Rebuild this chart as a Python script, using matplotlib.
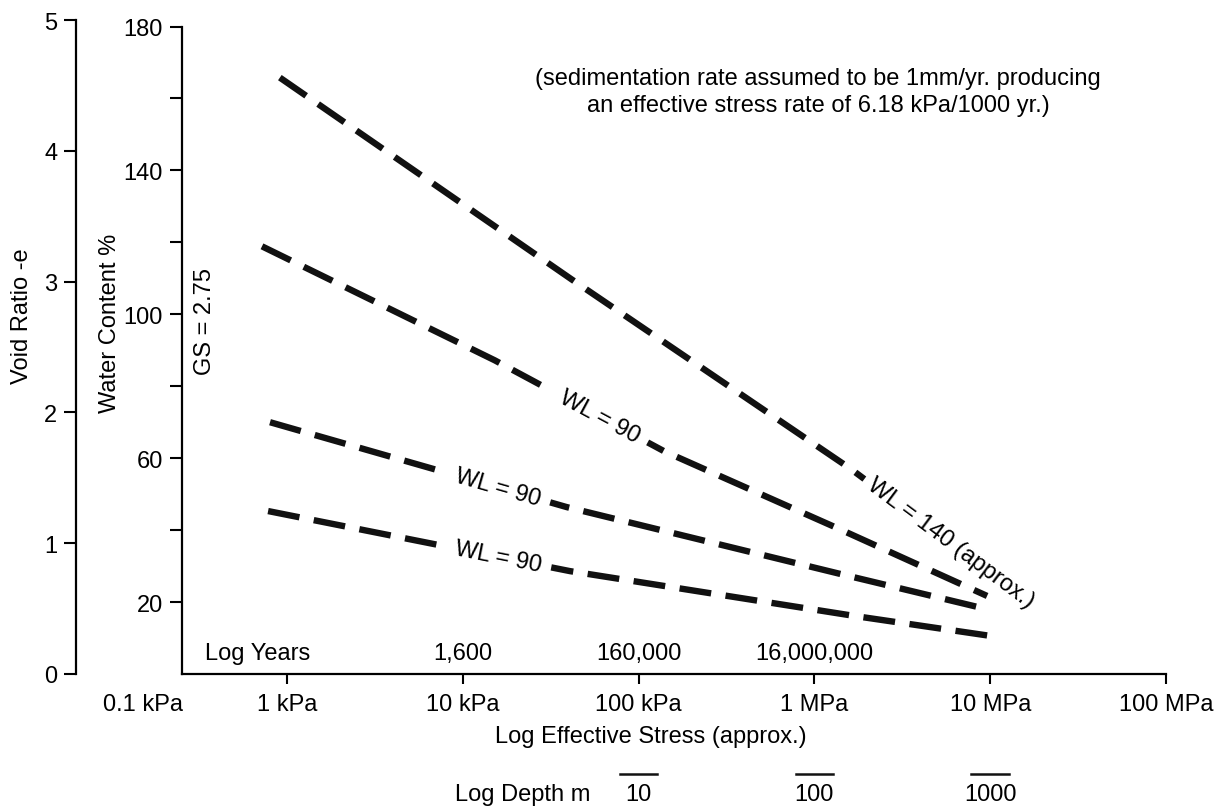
import numpy as np
import matplotlib.pyplot as plt
from matplotlib.transforms import blended_transform_factory, offset_copy

plt.rcParams['font.family'] = ['Liberation Sans', 'DejaVu Sans']
plt.rcParams['font.size'] = 17
plt.rcParams['lines.scale_dashes'] = False

GS = 2.75

# effective stress (kPa) against water content (%) for each curve
stress_140 = [0.91, 41.6, 1622, 1923]
water_140 = [165.8, 109.7, 56.9, 54.2]
stress_90a = [0.72, 15.2, 140, 1387, 9600]
water_90a = [118.9, 87.2, 61.9, 40.3, 21.7]
stress_90b = [0.80, 39, 1581, 10000]
water_90b = [70.0, 46.4, 27.2, 17.8]
stress_90c = [0.78, 40.7, 1710, 10000]
water_90c = [45.3, 28.6, 16.1, 10.6]

stress_ticks = [1, 10, 100, 1e3, 1e4, 1e5]
stress_labels = ['1 kPa', '10 kPa', '100 kPa', '1 MPa', '10 MPa', '100 MPa']
water_ticks = [20, 40, 60, 80, 100, 120, 140, 160, 180]
water_labels = ['20', '', '60', '', '100', '', '140', '', '180']
void_ticks = [0, 1, 2, 3, 4, 5]

year_stress = [10, 100, 1000]
year_labels = ['1,600', '160,000', '16,000,000']
depth_stress = [100, 1000, 10000]
depth_labels = ['10', '100', '1000']

XLIM = (0.063, 1e5)
WC_POS = 0.097  # water content spine, in axes fraction

fig = plt.figure(figsize=(12.23, 8.12), dpi=100)
ax = fig.add_axes([76 / 1223, 137 / 812, 1090 / 1223, 654 / 812])
ax.set_xscale('log')
ax.set_xlim(*XLIM)
ax.set_ylim(0, 5 * 100 / GS)

ax.spines['top'].set_visible(False)
ax.spines['right'].set_visible(False)
for side in ('left', 'bottom'):
    ax.spines[side].set_linewidth(1.6)
ax.spines['left'].set_position(('axes', WC_POS))
ax.spines['left'].set_bounds(0, 180)
lo, hi = np.log10(XLIM)
ax.spines['bottom'].set_bounds(10 ** (lo + WC_POS * (hi - lo)), XLIM[1])

ax.set_yticks(water_ticks)
ax.set_yticklabels(water_labels)
ax.tick_params(axis='y', direction='out', length=8.5, width=1.5, pad=5)
ax.set_xticks(stress_ticks)
ax.set_xticklabels(stress_labels)
ax.xaxis.set_minor_locator(plt.NullLocator())
ax.tick_params(axis='x', direction='out', length=7, width=1.5, pad=7)

void_ax = ax.secondary_yaxis(0, functions=(lambda w: w * GS / 100, lambda e: e * 100 / GS))
void_ax.set_yticks(void_ticks)
void_ax.spines['left'].set_linewidth(1.6)
void_ax.tick_params(direction='out', length=8.5, width=1.5, pad=5)

ax.text(0.0312, 0.538, 'Water Content %', rotation=90, ha='center', va='center',
        transform=ax.transAxes)
ax.text(-0.0495, 0.549, 'Void Ratio -e', rotation=90, ha='center', va='center',
        transform=ax.transAxes)
ax.text(0.1183, 0.54, 'GS = 2.75', rotation=90, ha='center', va='center',
        transform=ax.transAxes)

ax.text(0.681, 0.891, '(sedimentation rate assumed to be 1mm/yr. producing\n'
        'an effective stress rate of 6.18 kPa/1000 yr.)',
        ha='center', va='center', multialignment='center', linespacing=1.3,
        transform=ax.transAxes)

curves = [(stress_140, water_140), (stress_90a, water_90a),
          (stress_90b, water_90b), (stress_90c, water_90c)]
for s, w in curves:
    ax.plot(s, w, color='#111111', lw=4.6, linestyle=(0, (23, 10.5)),
            dash_capstyle='butt', solid_capstyle='butt')

fig.canvas.draw()


def point_on(s, w, at):
    # position on the curve at stress `at`, linear in log stress
    ls = np.log10(s)
    la = np.log10(at)
    if la > ls[-1]:
        k = (w[-1] - w[-2]) / (ls[-1] - ls[-2])
        return w[-1] + k * (la - ls[-1])
    return np.interp(la, ls, w)


def angle_at(s, w, at):
    a = ax.transData.transform((at / 1.2, point_on(s, w, at / 1.2)))
    b = ax.transData.transform((at * 1.2, point_on(s, w, at * 1.2)))
    return np.degrees(np.arctan2(b[1] - a[1], b[0] - a[0]))


mask = dict(boxstyle='square,pad=0.45', fc='white', ec='none')
for (s, w), at in zip(curves[1:], [60, 15.8, 15.8]):
    ax.text(at, point_on(s, w, at), 'WL = 90', rotation=angle_at(s, w, at),
            rotation_mode='anchor', ha='center', va='center', bbox=mask, zorder=3)

end = stress_140[-1]
rot = angle_at(stress_140, water_140, end)
shift = offset_copy(ax.transData, fig=fig, x=6 * np.cos(np.radians(rot)),
                    y=6 * np.sin(np.radians(rot)), units='dots')
ax.text(end, water_140[-1], 'WL = 140 (approx.)', rotation=rot, rotation_mode='anchor',
        ha='left', va='center', transform=shift)

row = blended_transform_factory(ax.transData, ax.transAxes)
ax.text(0.118, 0.032, 'Log Years', ha='left', va='center', transform=ax.transAxes)
for s, lab in zip(year_stress, year_labels):
    ax.text(s, 0.032, lab, ha='center', va='center', transform=row)

ax.text(0.0615, -0.046, '0.1 kPa', ha='center', va='center', transform=ax.transAxes,
        clip_on=False)
ax.text(0.527, -0.095, 'Log Effective Stress (approx.)', ha='center', va='center',
        transform=ax.transAxes)

ax.text(0.4716, -0.183, 'Log Depth m', ha='right', va='center', transform=ax.transAxes)
for s, lab in zip(depth_stress, depth_labels):
    ax.text(s, -0.183, lab, ha='center', va='center', transform=row)
    ax.plot([s / 1.28, s * 1.28], [-0.153, -0.153], color='#111111', lw=1.8,
            transform=row, clip_on=False)

fig.savefig('out.png', dpi=100)
